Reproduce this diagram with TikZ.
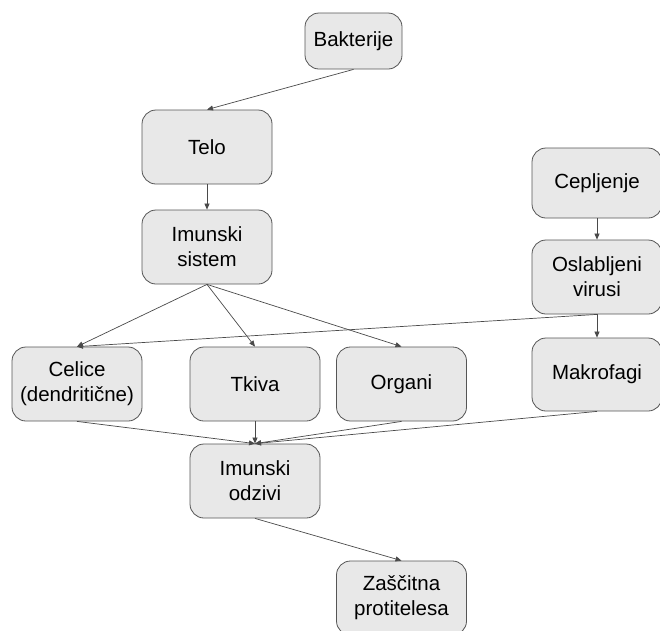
\documentclass[tikz,border=0pt]{standalone}
\usepackage{fontspec}
\setmainfont{Liberation Sans}
\usetikzlibrary{arrows.meta}
\definecolor{boxfill}{HTML}{E8E8E8}
\definecolor{boxline}{HTML}{555555}
\definecolor{edgeline}{HTML}{4A4A4A}
\begin{document}
\begin{tikzpicture}[x=1pt,y=-1pt,
  box/.style={draw=boxline,fill=boxfill,rounded corners=14pt,line width=0.8pt,
    minimum width=130pt,minimum height=74pt,align=center,inner sep=2pt,
    font=\fontsize{20.5}{25}\selectfont},
  conn/.style={draw=edgeline,line width=0.7pt,-{Triangle[length=6pt,width=5pt]}}]
\useasboundingbox (0,0) rectangle (660,630);
\fill[white] (0,0) rectangle (660,630);
\node[box,minimum width=97pt,minimum height=56pt] (bak) at (353.5,41) {Bakterije};
\node[box] (telo) at (207,147) {Telo};
\node[box] (imsis) at (207,247) {Imunski\\sistem};
\node[box,minimum height=70pt] (cep) at (597,183) {Cepljenje};
\node[box] (osl) at (597,277) {Oslabljeni\\virusi};
\node[box,minimum height=73pt] (mak) at (597,374.5) {Makrofagi};
\node[box] (cel) at (77,384) {Celice\\(dendritične)};
\node[box] (tki) at (255,384) {Tkiva};
\node[box] (org) at (401.5,384) {Organi};
\node[box] (odz) at (255,481) {Imunski\\odzivi};
\node[box] (zas) at (401.5,598) {Zaščitna\\protitelesa};
\draw[conn] (bak.south) -- (telo.north);
\draw[conn] (telo.south) -- (imsis.north);
\draw[conn] (imsis.south) -- (cel.north);
\draw[conn] (imsis.south) -- (tki.north);
\draw[conn] (imsis.south) -- (org.north);
\draw[conn] (cep.south) -- (osl.north);
\draw[conn] (osl.south) -- (mak.north);
\draw[conn] (osl.south) -- (cel.north);
\draw[conn] (cel.south) -- (odz.north);
\draw[conn] (tki.south) -- (odz.north);
\draw[conn] (org.south) -- (odz.north);
\draw[conn] (mak.south) -- (odz.north);
\draw[conn] (odz.south) -- (zas.north);
\end{tikzpicture}
\end{document}
